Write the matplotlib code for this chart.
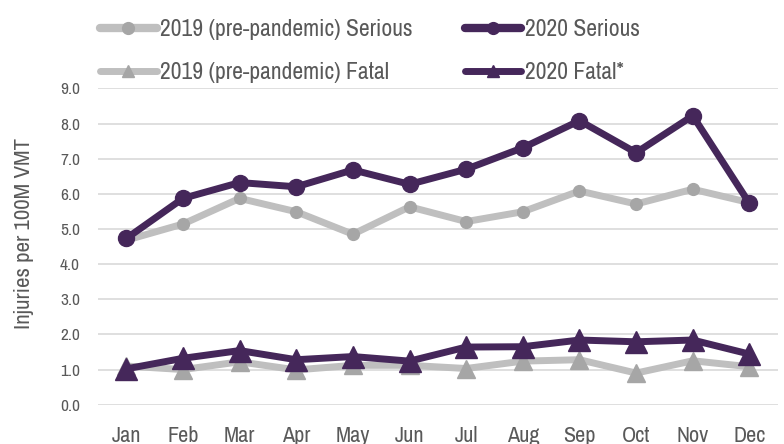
import matplotlib
matplotlib.use("Agg")
import matplotlib.pyplot as plt
from matplotlib.lines import Line2D

months = ["Jan", "Feb", "Mar", "Apr", "May", "Jun", "Jul", "Aug", "Sep", "Oct", "Nov", "Dec"]
serious_2019 = [4.68, 5.14, 5.87, 5.49, 4.85, 5.63, 5.21, 5.49, 6.08, 5.71, 6.13, 5.75]
serious_2020 = [4.73, 5.87, 6.32, 6.20, 6.68, 6.27, 6.70, 7.31, 8.08, 7.17, 8.22, 5.73]
fatal_2019 = [1.10, 1.00, 1.22, 0.99, 1.12, 1.12, 1.03, 1.24, 1.28, 0.90, 1.25, 1.08]
fatal_2020 = [1.02, 1.32, 1.54, 1.28, 1.37, 1.24, 1.64, 1.65, 1.84, 1.79, 1.84, 1.44]

PURPLE = "#45275a"
GRAY_LINE = "#bfbfbf"
GRAY_MARK = "#a6a6a6"
TEXT = "#595959"

plt.rcParams["font.family"] = ["Liberation Sans Narrow", "Archivo Narrow", "DejaVu Sans"]

fig = plt.figure(figsize=(7.84, 4.44), dpi=100)
ax = fig.add_axes([0.125, 0.0885, 0.867, 0.7125])

line_kw = dict(lw=5, solid_capstyle="round", solid_joinstyle="round")
x = range(len(months))
ax.plot(x, serious_2019, color=GRAY_LINE, marker="o", ms=8.5,
        mfc=GRAY_MARK, mec=GRAY_MARK, zorder=2, **line_kw)
ax.plot(x, fatal_2019, color=GRAY_LINE, marker="^", ms=13,
        mfc=GRAY_MARK, mec=GRAY_MARK, zorder=2, **line_kw)
ax.plot(x, serious_2020, color=PURPLE, marker="o", ms=11.5,
        mfc=PURPLE, mec=PURPLE, zorder=3, **line_kw)
ax.plot(x, fatal_2020, color=PURPLE, marker="^", ms=15.5,
        mfc=PURPLE, mec=PURPLE, zorder=3, **line_kw)

ax.set_xlim(-0.5, len(months) - 0.5)
ax.set_ylim(0, 9)
ax.set_yticks([i for i in range(10)])
ax.set_yticklabels([f"{i:.1f}" for i in range(10)])
ax.set_xticks(list(x))
ax.set_xticklabels(months)
ax.tick_params(axis="y", length=0, pad=13, labelsize=12.5, labelcolor=TEXT)
ax.tick_params(axis="x", length=0, pad=15, labelsize=16, labelcolor=TEXT)
for s in ax.spines.values():
    s.set_visible(False)
ax.grid(axis="y", color="#d9d9d9", lw=1.2)
ax.set_axisbelow(True)
ax.set_ylabel("Injuries per 100M VMT", fontsize=16.5, color=TEXT)
ax.yaxis.set_label_coords(-0.094, 0.54)

handles = [
    Line2D([], [], color=GRAY_LINE, marker="o", ms=8.5, mfc=GRAY_MARK, mec=GRAY_MARK, lw=6,
           solid_capstyle="round"),
    Line2D([], [], color=GRAY_LINE, marker="^", ms=9, mfc=GRAY_MARK, mec=GRAY_MARK, lw=5,
           solid_capstyle="round"),
    Line2D([], [], color=PURPLE, marker="o", ms=8.5, mfc=PURPLE, mec=PURPLE, lw=6,
           solid_capstyle="round"),
    Line2D([], [], color=PURPLE, marker="^", ms=9, mfc=PURPLE, mec=PURPLE, lw=5,
           solid_capstyle="round"),
]
labels = ["2019 (pre-pandemic) Serious", "2019 (pre-pandemic) Fatal",
          "2020 Serious", "2020 Fatal*"]
fig.legend(handles, labels, ncol=2,
           loc="upper left", bbox_to_anchor=(100 / 784, 1 - 19 / 444), frameon=False,
           borderpad=0, borderaxespad=0,
           fontsize=17, labelcolor=TEXT, handlelength=2.4, handletextpad=0.15,
           columnspacing=2.2, labelspacing=0.93)

fig.savefig("out.png", dpi=100)
